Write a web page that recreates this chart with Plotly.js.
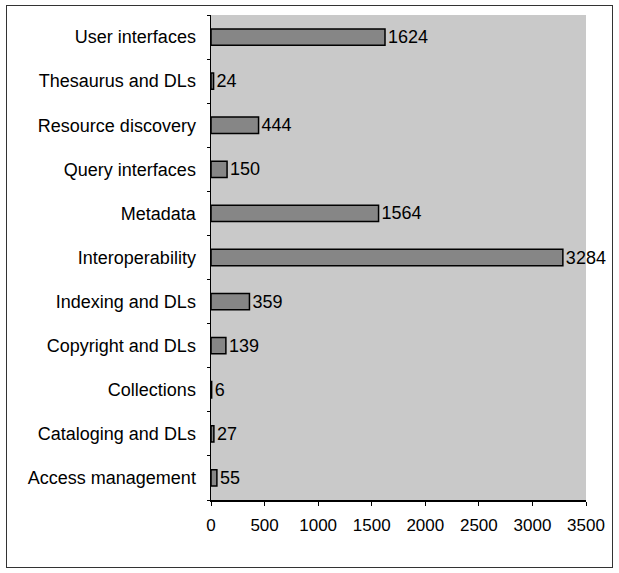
<!DOCTYPE html>
<html>
<head>
<meta charset="utf-8">
<script src="https://cdn.plot.ly/plotly-3.0.1.min.js"></script>
<style>
html,body{margin:0;padding:0;background:#fff;}
#frame{position:absolute;left:6px;top:5px;width:605px;height:561px;border:1.5px solid #333;}
#chart{position:absolute;left:0;top:0;width:619px;height:573px;}
</style>
</head>
<body>
<div id="frame"></div>
<div id="chart"></div>
<script>
const categories = ["User interfaces","Thesaurus and DLs","Resource discovery","Query interfaces","Metadata","Interoperability","Indexing and DLs","Copyright and DLs","Collections","Cataloging and DLs","Access management"];
const values = [1624,24,444,150,1564,3284,359,139,6,27,55];
const xTicks = [0,500,1000,1500,2000,2500,3000,3500];

const cats = categories.slice().reverse();
const vals = values.slice().reverse();

Plotly.newPlot('chart', [{
  type: 'bar',
  orientation: 'h',
  y: cats,
  x: vals,
  text: vals.map(String),
  textposition: 'outside',
  constraintext: 'none',
  cliponaxis: false,
  textfont: {family: 'Liberation Sans, Arial, sans-serif', size: 18, color: '#000'},
  outsidetextfont: {family: 'Liberation Sans, Arial, sans-serif', size: 18, color: '#000'},
  marker: {color: '#868686', line: {color: '#000', width: 1.5}},
  hoverinfo: 'none'
}], {
  width: 619, height: 573,
  margin: {l: 211, r: 33, t: 15, b: 73, pad: 0},
  paper_bgcolor: 'rgba(0,0,0,0)',
  plot_bgcolor: '#c9c9c9',
  bargap: 0.63,
  showlegend: false,
  font: {family: 'Liberation Sans, Arial, sans-serif', size: 18, color: '#000'},
  xaxis: {
    range: [0, 3500], tickvals: xTicks, ticktext: xTicks.map(String),
    showgrid: false, zeroline: false, showline: true, linecolor: '#000', linewidth: 1.5,
    ticks: 'outside', ticklen: 4, tickcolor: '#000', ticklabelstandoff: 5,
    tickfont: {size: 17},
    fixedrange: true
  },
  yaxis: {
    type: 'category', categoryorder: 'array', categoryarray: cats,
    showgrid: false, zeroline: false, showline: true, linecolor: '#000', linewidth: 1.5,
    ticks: 'outside', tickson: 'boundaries', ticklen: 3, tickcolor: '#000',
    ticklabelstandoff: 10, tickfont: {size: 18}, fixedrange: true
  }
}, {staticPlot: true});
</script>
</body>
</html>
